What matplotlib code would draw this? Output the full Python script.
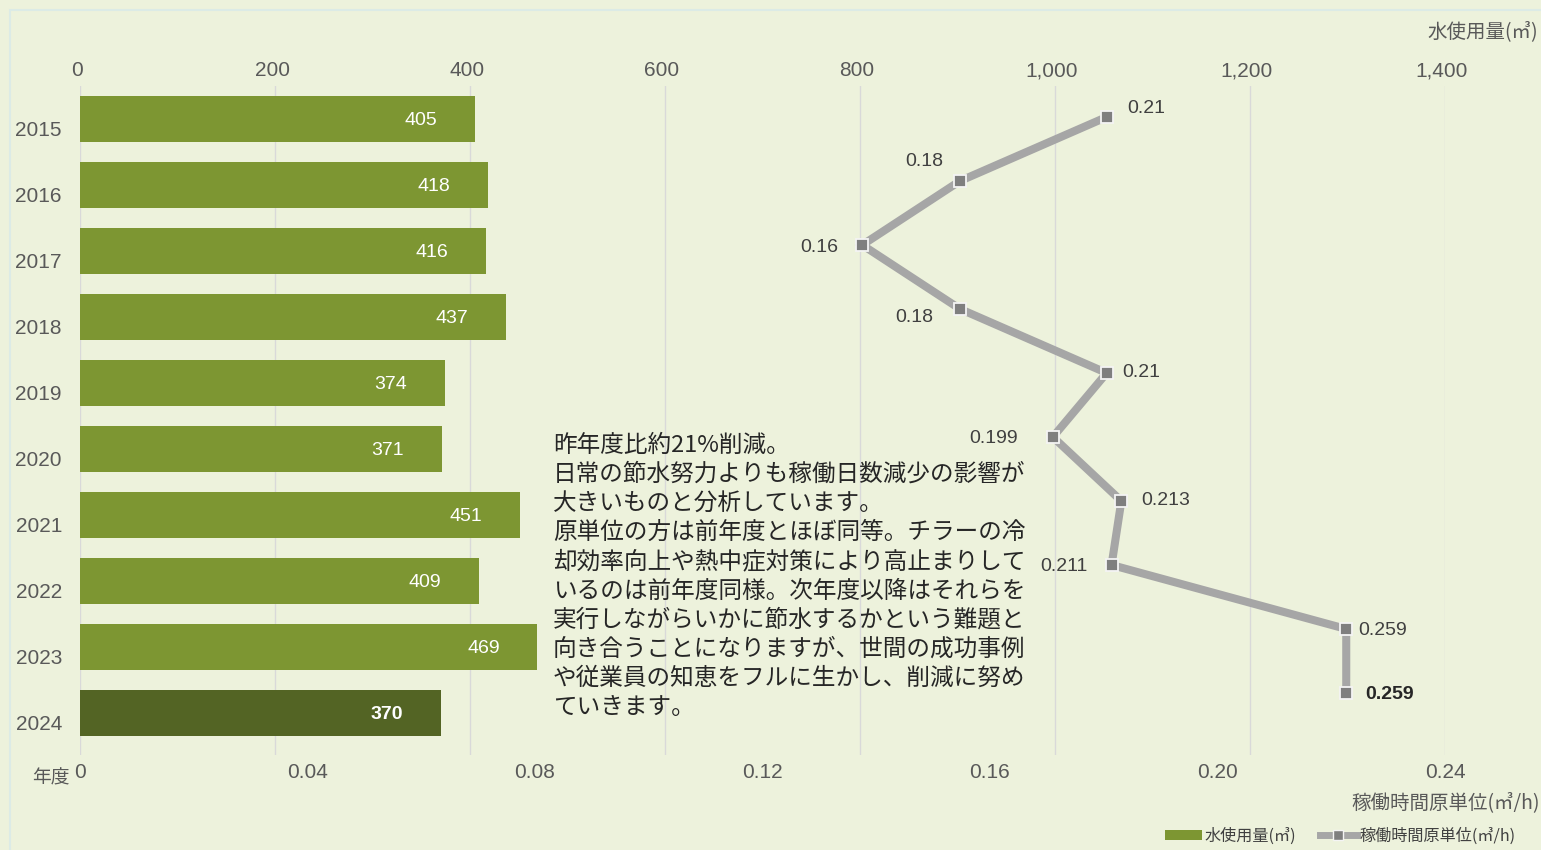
import matplotlib
matplotlib.use("Agg")
import matplotlib.pyplot as plt
from matplotlib.patches import Patch, Rectangle
from matplotlib.lines import Line2D
from matplotlib.ticker import FuncFormatter
from matplotlib.transforms import ScaledTranslation

plt.rcParams['font.family'] = ['Liberation Sans', 'Noto Sans CJK JP']

years = ['2015', '2016', '2017', '2018', '2019', '2020', '2021', '2022', '2023', '2024']
water_use = [405, 418, 416, 437, 374, 371, 451, 409, 469, 370]
unit_rate = [0.21, 0.18, 0.16, 0.18, 0.21, 0.199, 0.213, 0.211, 0.259, 0.259]
unit_labels = ['0.21', '0.18', '0.16', '0.18', '0.21', '0.199', '0.213', '0.211', '0.259', '0.259']
top_ticks = [0, 200, 400, 600, 800, 1000, 1200, 1400]
bottom_ticks = [0, 0.04, 0.08, 0.12, 0.16, 0.20, 0.24]

comment_lines = ["昨年度比約21%削減。",
                 "日常の節水努力よりも稼働日数減少の影響が",
                 "大きいものと分析しています。",
                 "原単位の方は前年度とほぼ同等。チラーの冷",
                 "却効率向上や熱中症対策により高止まりして",
                 "いるのは前年度同様。次年度以降はそれらを",
                 "実行しながらいかに節水するかという難題と",
                 "向き合うことになりますが、世間の成功事例",
                 "や従業員の知恵をフルに生かし、削減に努め",
                 "ていきます。"]

BG = '#EDF2DC'
BAR = '#7D9632'
BAR_LAST = '#536424'
TICK = '#595959'

W, H = 1541, 850
fig = plt.figure(figsize=(W / 100, H / 100), dpi=100, facecolor=BG)
fig.patches.append(Rectangle((10 / W, -0.1), 1.2, 1 - 10 / H + 0.1, transform=fig.transFigure,
                             facecolor='none', edgecolor='#DCEBE6', lw=1.5))

pos = [80 / W, 1 - 755 / H, (1445 - 80) / W, (755 - 86) / H]

# bars: water use on the top axis
ax = fig.add_axes(pos)
ax.set_facecolor('none')
idx = list(range(len(years)))
colors = [BAR] * (len(years) - 1) + [BAR_LAST]
ax.barh(idx, water_use, height=0.71, color=colors, zorder=2)
ax.set_xlim(0, 1400)
ax.set_ylim(9.636, -0.5)
ax.xaxis.tick_top()
ax.set_xticks(top_ticks)
ax.xaxis.set_major_formatter(FuncFormatter(lambda v, p: f'{int(v):,}'))
ax.set_yticks(idx)
ax.set_yticklabels(years)
ax.tick_params(axis='x', length=0, pad=4, labelsize=15, labelcolor=TICK)
ax.tick_params(axis='y', length=0, pad=13, labelsize=15, labelcolor=TICK)
for lbl in ax.get_yticklabels():
    lbl.set_transform(lbl.get_transform() + ScaledTranslation(0, -0.09, fig.dpi_scale_trans))
for lbl in ax.get_xticklabels():
    lbl.set_transform(lbl.get_transform() + ScaledTranslation(-0.03, 0, fig.dpi_scale_trans))
ax.grid(axis='x', color='#D9D9D9', linewidth=1, zorder=0)
ax.grid(axis='y', visible=False)
for s in ax.spines.values():
    s.set_visible(False)

for i, v in enumerate(water_use):
    last = i == len(years) - 1
    ax.annotate(str(v), (v, i), xytext=(-27, -1), textcoords='offset points',
                ha='right', va='center', color='white', fontsize=14,
                fontweight='bold' if last else 'normal', zorder=3)

# bottom scale for the unit rate
sec = ax.secondary_xaxis('bottom', functions=(lambda x: x * 0.24 / 1400, lambda x: x * 1400 / 0.24))
sec.set_xticks(bottom_ticks)
sec.xaxis.set_major_formatter(FuncFormatter(lambda v, p: '0' if v == 0 else f'{v:.2f}'))
sec.tick_params(length=0, pad=6, labelsize=15, labelcolor=TICK)
for s in sec.spines.values():
    s.set_visible(False)

# line: unit rate on its own hidden scale
axl = fig.add_axes(pos)
axl.set_facecolor('none')
axl.set_xlim(0, 0.2792)
axl.set_ylim(9.969, -0.484)
axl.axis('off')
axl.plot(unit_rate, idx, color='#A6A6A6', lw=5.8, marker='s', markersize=9,
         markerfacecolor='#7F7F7F', markeredgecolor='#F4F4F4', markeredgewidth=1.3,
         solid_joinstyle='miter', zorder=3)

offsets = [(15, 6), (-12, 14), (-17, -1.5), (-19, -6), (11.5, 0), (-25, -1),
           (14, 0), (-17, -1), (9, -1), (14, -1)]
for i, (v, t) in enumerate(zip(unit_rate, unit_labels)):
    dx, dy = offsets[i]
    last = i == len(years) - 1
    axl.annotate(t, (v, i), xytext=(dx, dy), textcoords='offset points',
                 ha='left' if dx > 0 else 'right', va='center', fontsize=14,
                 color='#262626' if last else '#404040',
                 fontweight='bold' if last else 'normal', zorder=4)

# commentary, one line at a time
for k, line in enumerate(comment_lines):
    fig.text(553 / W, 1 - (445 + 29.2 * k) / H, line, ha='left', va='center',
             fontsize=17, family=['Noto Sans CJK JP'], color='#262626')

# axis titles
fig.text(1538 / W, 1 - 32 / H, '水使用量(㎥)', ha='right', va='center',
         fontsize=14, color=TICK, family=['Noto Sans CJK JP'])
fig.text(1540 / W, 1 - 803 / H, '稼働時間原単位(㎥/h)', ha='right', va='center',
         fontsize=14, color=TICK, family=['Noto Sans CJK JP'])
fig.text(70 / W, 1 - 778 / H, '年度', ha='right', va='center',
         fontsize=13.5, color=TICK, family=['Noto Sans CJK JP'])

handles = [Patch(facecolor=BAR, edgecolor='none'),
           Line2D([], [], color='#A6A6A6', lw=5, marker='s', markersize=7,
                  markerfacecolor='#7F7F7F', markeredgecolor='#F4F4F4')]
leg = fig.legend(handles, ['水使用量(㎥)', '稼働時間原単位(㎥/h)'], ncol=2,
                 loc='center right', bbox_to_anchor=(1530 / W, 1 - 836 / H),
                 frameon=False, handlelength=2.3, handleheight=0.6,
                 handletextpad=0.15, columnspacing=1.5, labelcolor='#404040',
                 prop={'family': ['Noto Sans CJK JP'], 'size': 11.6})

fig.savefig('out.png', dpi=100, facecolor=BG)
